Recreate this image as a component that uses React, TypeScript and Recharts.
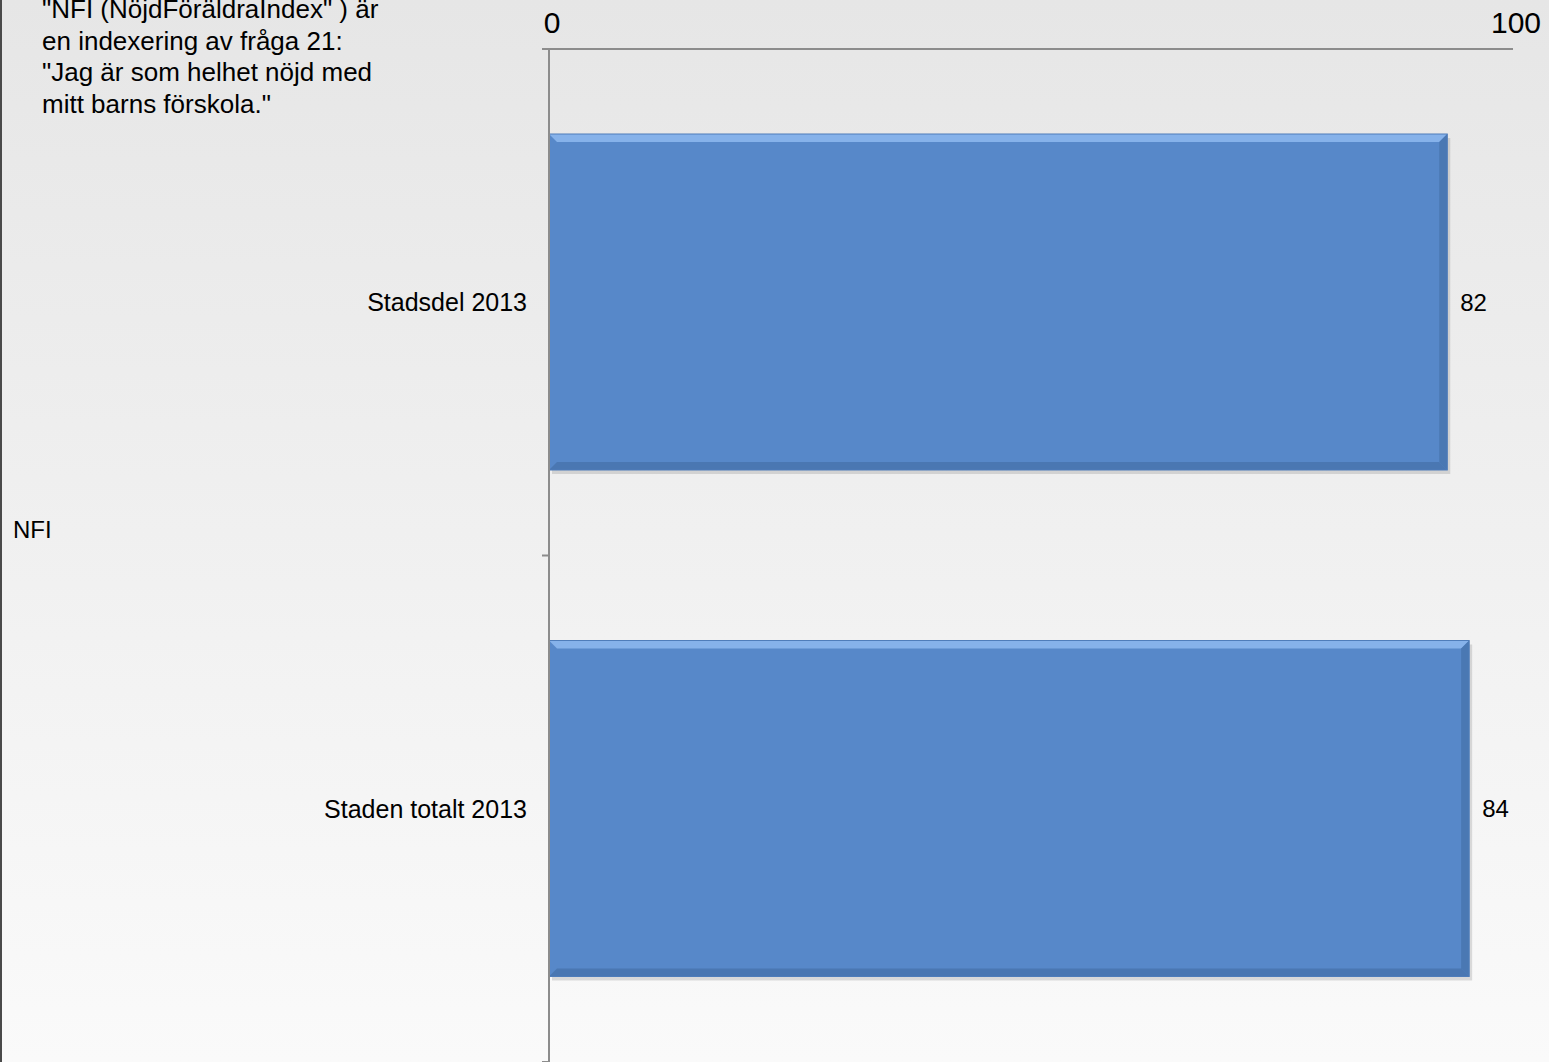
import { BarChart, Bar, XAxis, YAxis, LabelList } from 'recharts'

const categories = ['Stadsdel 2013', 'Staden totalt 2013']
const nfiValues = [82, 84]
const axisTicks = [0, 100]
const noteLines = [
  '"NFI (NöjdFöräldraIndex" ) är',
  'en indexering av fråga 21:',
  '"Jag är som helhet nöjd med',
  'mitt barns förskola."',
]
const seriesLabel = 'NFI'

const data = categories.map((name, i) => ({ name, value: nfiValues[i] }))

const W = 1549
const H = 1062
const PLOT_LEFT = 549
const PLOT_TOP = 49
const FONT = '"Liberation Sans", Arial, sans-serif'
const AXIS_COLOR = '#8c8c8c'

const halfBand = (H - PLOT_TOP) / categories.length / 2

const BevelBar = (props: any) => {
  const { x, y, width, height } = props
  if (!width || width <= 0) return null
  const b = 8
  const r = x + width
  const btm = y + height
  return (
    <g>
      <rect x={x + 3} y={y + 4} width={width} height={height} fill="rgba(0,0,0,0.12)" />
      <rect x={x} y={y} width={width} height={height} fill="#5788c9" />
      <polygon points={`${x},${y} ${r},${y} ${r - b},${y + b} ${x + b},${y + b}`} fill="#86b2ea" />
      <polygon points={`${r},${y} ${r},${btm} ${r - b},${btm - b} ${r - b},${y + b}`} fill="#4a78b3" />
      <polygon points={`${x},${btm} ${r},${btm} ${r - b},${btm - b} ${x + b},${btm - b}`} fill="#4a77b2" />
      <rect x={x} y={y} width={width} height={height} fill="none" stroke="#4f7dba" strokeWidth={1} />
    </g>
  )
}

const renderCategoryTick = (props: any) => {
  const { y, payload, index } = props
  return (
    <g key={`cat-${index}`}>
      <text
        x={PLOT_LEFT - 22}
        y={y}
        dy={9}
        textAnchor="end"
        fontSize={25}
        fontFamily={FONT}
        fill="#000"
      >
        {payload.value}
      </text>
      {index === 0 && (
        <line x1={PLOT_LEFT - 7} x2={PLOT_LEFT} y1={y - halfBand} y2={y - halfBand} stroke={AXIS_COLOR} strokeWidth={2} />
      )}
      <line x1={PLOT_LEFT - 7} x2={PLOT_LEFT} y1={y + halfBand} y2={y + halfBand} stroke={AXIS_COLOR} strokeWidth={2} />
    </g>
  )
}

const renderTopTick = (props: any) => {
  const { x, payload, index } = props
  return (
    <text key={`top-${index}`} x={x + 3} y={33} textAnchor="middle" fontSize={30} fontFamily={FONT} fill="#000">
      {payload.value}
    </text>
  )
}

export default function App() {
  return (
    <div
      style={{
        position: 'absolute',
        left: 0,
        top: 0,
        width: W,
        height: H,
        overflow: 'hidden',
        background: 'linear-gradient(to bottom, #e6e6e6 0%, #f0f0f0 50%, #fafafa 100%)',
        fontFamily: FONT,
      }}
    >
      <div style={{ position: 'absolute', left: 0, top: 0, width: 2, height: H, background: '#4a4a4a' }} />
      <div
        style={{
          position: 'absolute',
          left: 42,
          top: -6,
          fontSize: 26,
          lineHeight: '31.5px',
          color: '#000',
          whiteSpace: 'nowrap',
        }}
      >
        {noteLines.map((line) => (
          <div key={line}>{line}</div>
        ))}
      </div>
      <div
        style={{
          position: 'absolute',
          left: 13,
          top: 515,
          fontSize: 24,
          lineHeight: '30px',
          color: '#000',
        }}
      >
        {seriesLabel}
      </div>
      <BarChart
        width={W}
        height={H}
        data={data}
        layout="vertical"
        margin={{ top: 0, right: 36, bottom: 0, left: 0 }}
        style={{ position: 'absolute', left: 0, top: 0 }}
      >
        <XAxis
          xAxisId="top"
          type="number"
          orientation="top"
          domain={[0, 100]}
          allowDataOverflow
          ticks={axisTicks}
          height={PLOT_TOP}
          tickLine={false}
          axisLine={{ stroke: AXIS_COLOR, strokeWidth: 2 }}
          tick={renderTopTick}
          interval={0}
        />
        <XAxis xAxisId="bars" type="number" orientation="bottom" domain={[0, 88]} height={0} hide />
        <YAxis
          type="category"
          dataKey="name"
          width={PLOT_LEFT}
          tickLine={false}
          axisLine={{ stroke: AXIS_COLOR, strokeWidth: 2 }}
          tick={renderCategoryTick}
          interval={0}
        />
        <Bar
          xAxisId="bars"
          dataKey="value"
          barSize={336}
          shape={<BevelBar />}
          isAnimationActive={false}
        >
          <LabelList
            dataKey="value"
            position="right"
            offset={13}
            fontSize={24}
            fontFamily={FONT}
            fill="#000"
          />
        </Bar>
      </BarChart>
    </div>
  )
}
